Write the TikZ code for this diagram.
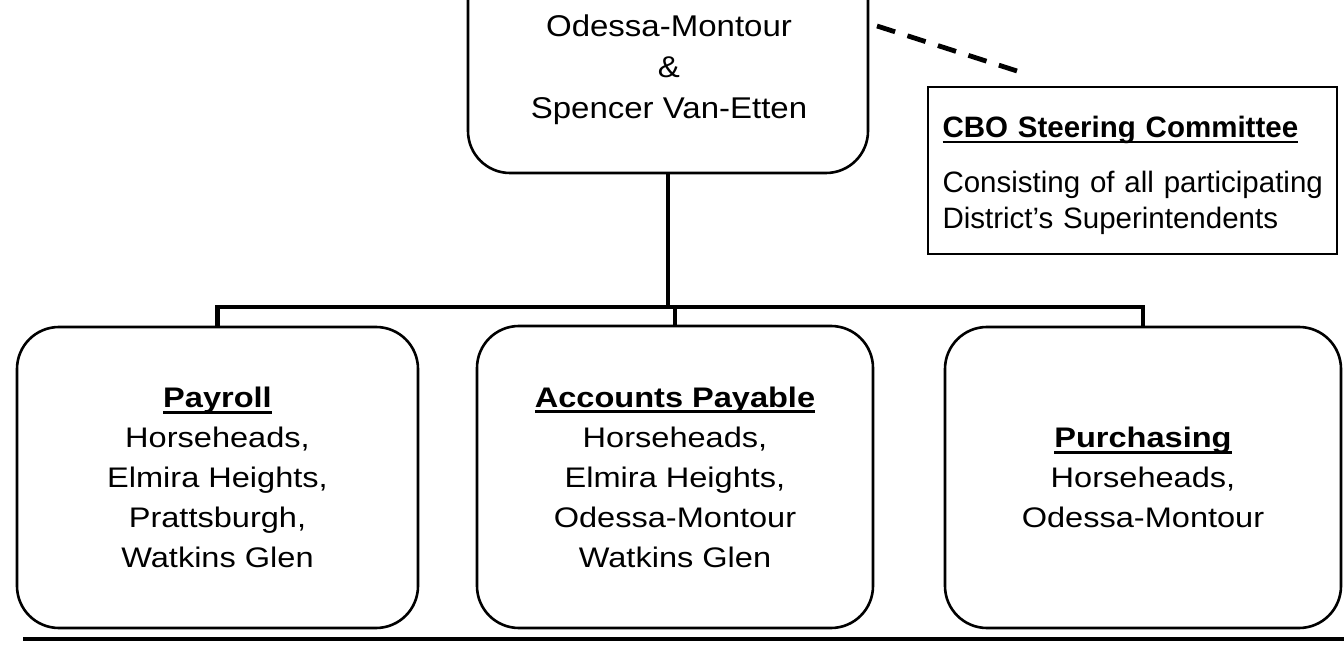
\documentclass[tikz,border=0pt]{standalone}
\usepackage{fontspec}
\setmainfont{Liberation Sans}
\newfontfamily\mainwide[FakeStretch=1.15]{Liberation Sans}
\newfontfamily\topwide[FakeStretch=1.1]{Liberation Sans}
\newcommand\myul[1]{\setbox0\hbox{#1}\rlap{\rule[-3pt]{\wd0}{1.4pt}}\box0}
\tikzset{
  orgbox/.style={draw, line width=1.3pt, rounded corners=21pt, inner sep=0pt,
    align=center, font=\mainwide\fontsize{14.15}{20}\selectfont},
  topbox/.style={draw, line width=1.3pt, rounded corners=21pt, inner sep=0pt,
    minimum width=200pt, minimum height=116.5pt},
  toptxt/.style={align=center, inner sep=0pt, font=\topwide\fontsize{15}{20.5}\selectfont},
  cbobox/.style={draw, line width=1pt, align=left, text width=190pt, inner xsep=7.25pt,
    minimum height=83.5pt, font=\fontsize{14.75}{18}\selectfont},
  conn/.style={line width=2.2pt, line join=miter},
  dashline/.style={line width=2.4pt, dash pattern=on 9.5pt off 6.5pt},
  rulestyle/.style={line width=2pt}
}
\begin{document}
\begin{tikzpicture}[x=0.5pt, y=-0.5pt]
\useasboundingbox (0,0) rectangle (1344,646);
\clip (0,0) rectangle (1344,646);
\fill[white] (0,0) rectangle (1344,646);

% top box (cut off by the page edge)
\node[topbox] (top) at (668,56.5) {};
\node[toptxt] (toptext) at (669,70) {Odessa-Montour\\ \&\\ Spencer Van-Etten};

% steering committee
\node[cbobox] (cbo) at (1132.5,170.5)
  {\rule{0pt}{15.5pt}\mbox{\myul{\textbf{CBO Steering Committee}}}\\[9.5pt]
   \mbox{Consisting of all participating}\\
   \mbox{District's Superintendents}};

\coordinate (d1) at (877,26);
\coordinate (d2) at (1017,71);
\draw[dashline] (d1) -- (d2);

% bottom boxes
\node[orgbox, minimum width=200.5pt, minimum height=150.5pt] (pay) at (217.5,477.5)
  {\myul{\textbf{Payroll}}\\Horseheads,\\Elmira Heights,\\Prattsburgh,\\Watkins Glen};
\node[orgbox, minimum width=198pt, minimum height=151pt] (ap) at (675,477)
  {\myul{\textbf{Accounts Payable}}\\Horseheads,\\Elmira Heights,\\Odessa-Montour\\Watkins Glen};
\node[orgbox, minimum width=198pt, minimum height=150.5pt] (pur) at (1143,477.5)
  {\myul{\textbf{Purchasing}}\\Horseheads,\\Odessa-Montour};

% connectors
\coordinate (j) at (672,307);
\draw[conn] (top.south) -- (top.south |- j);
\draw[conn] (pay.north) |- (j) -| (pur.north);
\draw[conn] (ap.north |- j) -- (ap.north);

% bottom rule
\coordinate (r1) at (23,639);
\coordinate (r2) at (1344,639);
\draw[rulestyle] (r1) -- (r2);
\end{tikzpicture}
\end{document}
